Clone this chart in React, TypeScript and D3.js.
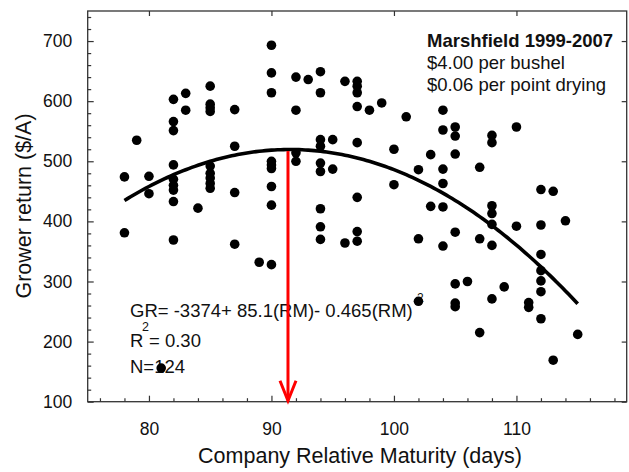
import React, { useEffect, useRef } from "react";
import * as d3 from "d3";

// company relative maturity (days) and grower return ($/A) for each maturity group
const maturity = [78, 79, 80, 81, 82, 83, 84, 85, 87, 89, 90, 92, 93, 94, 95, 96, 97, 98, 99, 100, 101, 102, 103, 104, 105, 106, 107, 108, 109, 110, 111, 112, 113, 114, 115];
const growerReturn = [
  [474, 381],
  [535],
  [475, 446],
  [156],
  [603, 566, 551, 494, 470, 460, 452, 433, 369],
  [613, 585],
  [422],
  [625, 595, 589, 583, 492, 480, 472, 463, 455],
  [586, 525, 448, 362],
  [332],
  [693, 647, 614, 500, 494, 488, 458, 427, 328],
  [640, 585, 514, 500],
  [636],
  [649, 614, 536, 525, 497, 483, 421, 391, 370],
  [536, 487],
  [633, 364],
  [633, 625, 614, 591, 531, 440, 383, 367],
  [585],
  [597],
  [520, 461],
  [574],
  [486, 371, 267],
  [511, 425],
  [585, 552, 487, 463, 424, 359],
  [557, 542, 512, 382, 296, 264, 258],
  [300],
  [490, 371, 215],
  [543, 531, 426, 413, 395, 360, 271],
  [291],
  [557, 392],
  [265, 257],
  [453, 394, 345, 318, 301, 283, 238],
  [450, 169],
  [401],
  [212],
];

// GR = a + b*RM + c*RM^2 (printed on the chart)
const fitCoef = [-3374, 85.1, -0.465];
const fitRange = [78, 115];
// red arrow: optimum maturity
const arrowRM = 91.35;
const arrowTop = 517;

const xTicks = [80, 90, 100, 110];
const yTicks = [100, 200, 300, 400, 500, 600, 700];

const titleText = "Marshfield 1999-2007";
const noteLines = ["$4.00 per bushel", "$0.06 per point drying"];

const FONT = "'Liberation Sans', Arial, sans-serif";

export default function App() {
  const ref = useRef<SVGSVGElement>(null);

  useEffect(() => {
    const svg = d3.select(ref.current);
    svg.selectAll("*").remove();

    const W = 629, H = 472;
    const left = 87.7, right = 626.7, top = 11, bottom = 401.7;

    const x = d3.scaleLinear().domain([75, 119]).range([left, right]);
    const y = d3.scaleLinear().domain([100, 750]).range([bottom, top]);

    svg.attr("width", W).attr("height", H).style("font-family", FONT);

    const axisColor = "#333";

    // minor ticks
    const xMinor = d3.range(76, 119, 2).filter(v => v % 10 !== 0);
    const yMinor = d3.range(100, 751, 20).filter(v => v % 100 !== 0);

    const gxMinor = svg.append("g").attr("transform", `translate(0,${bottom})`)
      .call(d3.axisBottom(x).tickValues(xMinor).tickSize(-3.5).tickSizeOuter(0).tickFormat(() => ""));
    const gyMinor = svg.append("g").attr("transform", `translate(${left},0)`)
      .call(d3.axisLeft(y).tickValues(yMinor).tickSize(-3.5).tickSizeOuter(0).tickFormat(() => ""));

    const gx = svg.append("g").attr("transform", `translate(0,${bottom})`)
      .call(d3.axisBottom(x).tickValues(xTicks).tickSize(-6).tickSizeOuter(0).tickPadding(21));
    const gy = svg.append("g").attr("transform", `translate(${left},0)`)
      .call(d3.axisLeft(y).tickValues(yTicks).tickSize(-6).tickSizeOuter(0).tickPadding(15.5));
    const gTop = svg.append("g").attr("transform", `translate(0,${top})`)
      .call(d3.axisTop(x).tickValues(xTicks).tickSize(-5).tickSizeOuter(0).tickFormat(() => ""));
    const gRight = svg.append("g").attr("transform", `translate(${right},0)`)
      .call(d3.axisRight(y).tickValues(yTicks).tickSize(-5).tickSizeOuter(0).tickFormat(() => ""));

    [gxMinor, gyMinor, gx, gy, gTop, gRight].forEach(g => {
      g.select(".domain").remove();
      g.selectAll("line").attr("stroke", axisColor).attr("stroke-width", 1.2);
      g.selectAll("text").attr("fill", "#111").style("font-size", "17.5px").style("font-family", FONT);
    });

    // plot frame
    svg.append("rect")
      .attr("x", left).attr("y", top)
      .attr("width", right - left).attr("height", bottom - top)
      .attr("fill", "none").attr("stroke", axisColor).attr("stroke-width", 1.3);

    // axis titles
    svg.append("text")
      .attr("x", 360).attr("y", 463)
      .attr("text-anchor", "middle")
      .style("font-size", "21.5px").attr("fill", "#111")
      .text("Company Relative Maturity (days)");
    svg.append("text")
      .attr("transform", `translate(31,206) rotate(-90)`)
      .attr("text-anchor", "middle")
      .style("font-size", "21.5px").attr("fill", "#111")
      .text("Grower return ($/A)");

    // annotation block top right
    svg.append("text")
      .attr("x", 427).attr("y", 46.5)
      .style("font-size", "18.5px").style("font-weight", "bold").attr("fill", "#111")
      .text(titleText);
    svg.selectAll(".note").data(noteLines).join("text")
      .attr("class", "note")
      .attr("x", 427).attr("y", (d, i) => 69 + i * 22)
      .style("font-size", "18.5px").attr("fill", "#111")
      .text(d => d);

    // regression text
    const eq = svg.append("g").style("font-size", "18.5px").attr("fill", "#111");
    eq.append("text").attr("x", 130).attr("y", 317.3).text("GR= -3374+ 85.1(RM)- 0.465(RM)");
    eq.append("text").attr("x", 417).attr("y", 302).style("font-size", "12px").text("2");
    eq.append("text").attr("x", 130).attr("y", 346.7).text("R");
    eq.append("text").attr("x", 142).attr("y", 331).style("font-size", "12.5px").text("2");
    eq.append("text").attr("x", 149).attr("y", 346.7).text("= 0.30");
    eq.append("text").attr("x", 130).attr("y", 373.3).text("N=124");

    // fitted curve
    const fit = (rm: number) => fitCoef[0] + fitCoef[1] * rm + fitCoef[2] * rm * rm;
    const curvePts = d3.range(fitRange[0], fitRange[1] + 0.01, 0.25);
    svg.append("path")
      .datum(curvePts)
      .attr("fill", "none").attr("stroke", "#000").attr("stroke-width", 3.6)
      .attr("d", d3.line<number>().x(d => x(d)).y(d => y(fit(d))));

    // data points
    const points: [number, number][] = [];
    maturity.forEach((rm, i) => growerReturn[i].forEach(v => points.push([rm, v])));
    svg.append("g").selectAll("circle").data(points).join("circle")
      .attr("cx", d => x(d[0])).attr("cy", d => y(d[1]))
      .attr("r", 4.8).attr("fill", "#000");

    // red arrow
    const ax = x(arrowRM);
    const red = svg.append("g").attr("stroke", "#ff0000").attr("stroke-width", 3).attr("fill", "none");
    red.append("line").attr("x1", ax).attr("x2", ax).attr("y1", y(arrowTop)).attr("y2", y(100) - 1);
    red.append("path").attr("d", `M${ax - 8},${y(100) - 21}L${ax},${y(100) - 1}L${ax + 8},${y(100) - 21}`);
  }, []);

  return (
    <svg ref={ref} style={{ position: "absolute", left: 0, top: 0 }}></svg>
  );
}
